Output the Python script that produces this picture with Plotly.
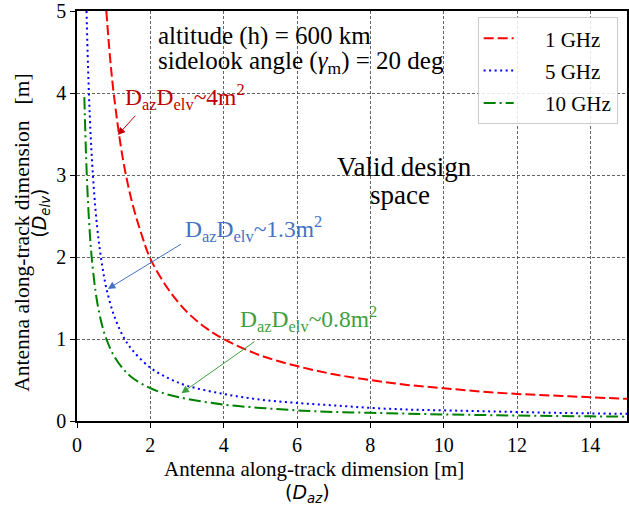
import plotly.graph_objects as go

# Values
x_1ghz = [0.8, 0.9, 1.0, 1.25, 1.5, 1.75, 2.0, 2.5, 3.0, 3.5, 4.0, 5.0, 6.0, 7.0, 8.0, 9.0, 10.0, 11.0, 12.0, 13.0, 14.0, 15.0]
y_1ghz = [5.0, 4.44, 4.0, 3.2, 2.67, 2.29, 1.98, 1.6, 1.33, 1.14, 1.0, 0.8, 0.67, 0.57, 0.5, 0.44, 0.4, 0.36, 0.33, 0.31, 0.29, 0.27]

x_5ghz = [0.26, 0.3, 0.35, 0.4, 0.5, 0.6, 0.7, 0.8, 1.0, 1.25, 1.5, 2.0, 2.5, 3.0, 4.0, 5.0, 6.0, 7.0, 8.0, 9.0, 10.0, 11.0, 12.0, 13.0, 14.0, 15.0]
y_5ghz = [5.0, 4.33, 3.71, 3.25, 2.6, 2.17, 1.86, 1.62, 1.3, 1.04, 0.87, 0.65, 0.52, 0.43, 0.33, 0.26, 0.22, 0.19, 0.16, 0.14, 0.13, 0.12, 0.11, 0.10, 0.093, 0.087]

x_10ghz = [0.2, 0.25, 0.3, 0.35, 0.4, 0.5, 0.6, 0.7, 0.8, 1.0, 1.25, 1.5, 2.0, 2.5, 3.0, 4.0, 5.0, 6.0, 7.0, 8.0, 9.0, 10.0, 11.0, 12.0, 13.0, 14.0, 15.0]
y_10ghz = [3.95, 3.2, 2.67, 2.29, 2.0, 1.6, 1.33, 1.14, 1.0, 0.8, 0.64, 0.53, 0.4, 0.32, 0.27, 0.2, 0.16, 0.13, 0.11, 0.1, 0.09, 0.08, 0.073, 0.067, 0.062, 0.057, 0.053]

series_names = ["1 GHz", "5 GHz", "10 GHz"]
x_ticks = [0, 2, 4, 6, 8, 10, 12, 14]
y_ticks = [0, 1, 2, 3, 4, 5]

SERIF = "'Liberation Serif', 'Times New Roman', Times, serif"
SANS = "'DejaVu Sans', sans-serif"
PAD = "&nbsp;" * 5

fig = go.Figure()
fig.add_trace(go.Scatter(x=x_1ghz, y=y_1ghz, mode="lines", name=PAD + series_names[0], legendgroup="a",
                         line=dict(color="red", width=2, dash="10px,4px", shape="spline")))
fig.add_trace(go.Scatter(x=x_5ghz, y=y_5ghz, mode="lines", name=PAD + series_names[1], legendgroup="b",
                         line=dict(color="blue", width=2, dash="2px,3.5px", shape="spline")))
fig.add_trace(go.Scatter(x=x_10ghz, y=y_10ghz, mode="lines", name=PAD + series_names[2], legendgroup="c",
                         line=dict(color="green", width=2, dash="12px,4px,2px,4px", shape="spline")))

axis_common = dict(
    showgrid=True, gridcolor="rgba(60,60,60,0.8)", gridwidth=1, griddash="3px,2px",
    showline=True, linecolor="black", linewidth=1.5, mirror=True,
    ticks="outside", ticklen=5, tickcolor="black",
    tickfont=dict(family=SERIF, size=20, color="black"),
    zeroline=False, ticklabeloverflow="allow",
)
fig.update_xaxes(range=[0, 15], tickvals=x_ticks, **axis_common)
fig.update_yaxes(range=[0, 5], tickvals=y_ticks, **axis_common)


def px_x(p):
    return (p - 77) / 36.87


def px_y(p):
    return (421 - p) / 82.6


# white backgrounds behind the in-plot text blocks (drawn above grid, below data)
fig.add_shape(type="rect", xref="x", yref="y", layer="below",
              x0=px_x(154), x1=px_x(456), y0=px_y(18), y1=px_y(76),
              fillcolor="white", line=dict(width=0))
fig.add_shape(type="rect", xref="x", yref="y", layer="below",
              x0=px_x(332), x1=px_x(482), y0=px_y(146), y1=px_y(212),
              fillcolor="white", line=dict(width=0))

ann = []
# top text block (two lines)
ann.append(dict(x=px_x(156), y=px_y(33), xref="x", yref="y", xanchor="left", yanchor="middle",
                text="altitude (h) = 600 km", showarrow=False,
                font=dict(family=SERIF, size=25, color="black")))
ann.append(dict(x=px_x(156), y=px_y(60), xref="x", yref="y", xanchor="left", yanchor="middle",
                text="sidelook angle (<i>γ</i><sub>m</sub>) = 20 deg", showarrow=False,
                font=dict(family=SERIF, size=25, color="black")))
ann.append(dict(x=px_x(406), y=px_y(165), xref="x", yref="y", xanchor="center", yanchor="middle",
                text="Valid design", showarrow=False,
                font=dict(family=SERIF, size=27, color="black")))
ann.append(dict(x=px_x(402), y=px_y(193), xref="x", yref="y", xanchor="center", yanchor="middle",
                text="space", showarrow=False,
                font=dict(family=SERIF, size=27, color="black")))
# labels with arrows
labels = [
    ("D<sub>az</sub>D<sub>elv</sub>~4m<sup>2</sup>", "#c00000", (123, 95), (118, 133), (137, 112)),
    ("D<sub>az</sub>D<sub>elv</sub>~1.3m<sup>2</sup>", "#4472c4", (184, 228), (108, 288), (183, 242)),
    ("D<sub>az</sub>D<sub>elv</sub>~0.8m<sup>2</sup>", "#3f9f3f", (239, 318), (182, 393), (257, 340)),
]
for txt, col, tpos, head, tail in labels:
    ann.append(dict(x=px_x(tpos[0]), y=px_y(tpos[1]), xref="x", yref="y", xanchor="left", yanchor="middle",
                    text=txt, showarrow=False, font=dict(family=SERIF, size=23.5, color=col)))
    ann.append(dict(x=px_x(head[0]), y=px_y(head[1]), ax=px_x(tail[0]), ay=px_y(tail[1]),
                    xref="x", yref="y", axref="x", ayref="y", text="", showarrow=True,
                    arrowhead=2, arrowsize=1.5, arrowwidth=1, arrowcolor=col))
# axis titles
ann.append(dict(x=(315 - 77) / 553, y=(421 - 469) / 413, xref="paper", yref="paper",
                xanchor="center", yanchor="middle",
                text="Antenna along-track dimension [m]", showarrow=False,
                font=dict(family=SERIF, size=21, color="black")))
ann.append(dict(x=(309 - 77) / 553, y=(421 - 494) / 413, xref="paper", yref="paper",
                xanchor="center", yanchor="middle",
                text="(<i>D<sub>az</sub></i>)", showarrow=False,
                font=dict(family=SANS, size=19, color="black")))
ann.append(dict(x=(22 - 77) / 553, y=(421 - 231) / 413, xref="paper", yref="paper",
                xanchor="center", yanchor="middle",
                text="Antenna along-track dimension&nbsp;&nbsp; [m]", showarrow=False, textangle=-90,
                font=dict(family=SERIF, size=21.5, color="black")))
ann.append(dict(x=(40 - 77) / 553, y=(421 - 212) / 413, xref="paper", yref="paper",
                xanchor="center", yanchor="middle",
                text="(<i>D<sub>elv</sub></i>)", showarrow=False, textangle=-90,
                font=dict(family=SANS, size=19, color="black")))
fig.update_layout(annotations=ann)

fig.update_layout(
    width=629, height=510,
    margin=dict(l=77, r=0, t=8, b=89),
    plot_bgcolor="white", paper_bgcolor="white",
    showlegend=True,
    legend=dict(x=0.983, y=0.985, xanchor="right", yanchor="top",
                bgcolor="rgba(255,255,255,0.85)", bordercolor="#cccccc", borderwidth=1,
                font=dict(family=SERIF, size=21, color="black"), tracegroupgap=2),
)

fig.write_html("out.html")
